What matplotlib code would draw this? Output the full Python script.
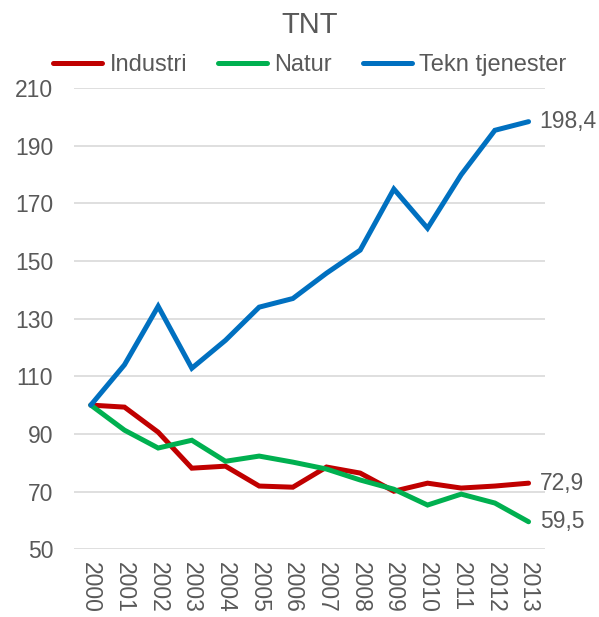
import matplotlib.pyplot as plt
from matplotlib.lines import Line2D

plt.rcParams['font.family'] = ['Liberation Sans', 'DejaVu Sans']

years = [str(y) for y in range(2000, 2014)]
industri = [100, 99.3, 90.6, 78.1, 78.8, 71.9, 71.5, 78.5, 76.4, 70.1, 72.9, 71.2, 71.9, 72.9]
natur = [100, 91.3, 85.1, 87.8, 80.5, 82.3, 80.2, 77.8, 74.0, 70.8, 65.3, 69.1, 66.0, 59.5]
tekn = [100, 114, 134.3, 112.8, 122.5, 134, 137, 145.8, 153.8, 175, 161.4, 180, 195.4, 198.4]

names = ['Industri', 'Natur', 'Tekn tjenester']
colors = ['#C00000', '#00B050', '#0070C0']
grey = '#595959'

fig = plt.figure(figsize=(5.99, 6.17), dpi=100)
ax = fig.add_axes([0.1235, 0.110, 0.787, 0.747])

x = range(len(years))
for vals, c in zip([industri, natur, tekn], colors):
    ax.plot(x, vals, color=c, lw=3.6, solid_joinstyle='miter', solid_capstyle='round')
    ax.annotate(f'{vals[-1]:.1f}'.replace('.', ','), (x[-1], vals[-1]),
                xytext=(8, 0), textcoords='offset points', va='center', ha='left',
                fontsize=16.5, color=grey, annotation_clip=False)

ax.set_xlim(-0.5, len(years) - 0.5)
ax.set_ylim(50, 210)
ax.set_yticks(range(50, 211, 20))
ax.set_xticks(list(x))
ax.set_xticklabels(years, rotation=-90)
ax.grid(axis='y', color='#D9D9D9', lw=1.2)
ax.set_axisbelow(True)
for s in ax.spines.values():
    s.set_visible(False)
ax.tick_params(length=0, labelsize=16.5, colors=grey)
ax.tick_params(axis='y', pad=15)
ax.tick_params(axis='x', pad=9)

ax.set_title('TNT', fontsize=21, color=grey, pad=40)
handles = [Line2D([], [], color=c, lw=3.6, solid_capstyle='round') for c in colors]
ax.legend(handles, names, loc='lower center', bbox_to_anchor=(0.5, 0.99), ncol=3,
          frameon=False, fontsize=17, labelcolor=grey, handlelength=2.1,
          handletextpad=0.3, columnspacing=1.3, borderpad=0.2)

fig.savefig('out.png', dpi=100)
